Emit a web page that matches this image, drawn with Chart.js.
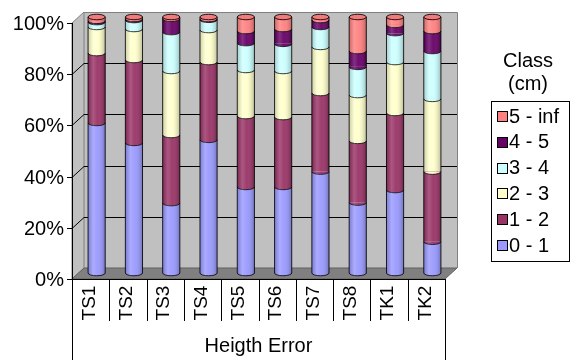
<!DOCTYPE html>
<html>
<head>
<meta charset="utf-8">
<script src="https://cdn.jsdelivr.net/npm/chart.js@4/dist/chart.umd.min.js"></script>
<style>
  html, body { margin: 0; padding: 0; background: #ffffff; }
  #wrap { width: 573px; height: 360px; position: relative; }
</style>
</head>
<body>
<div id="wrap"><canvas id="c" width="573" height="360"></canvas></div>
<script>
// Share of height errors per class, in percent of each site
const categories = ['TS1', 'TS2', 'TS3', 'TS4', 'TS5', 'TS6', 'TS7', 'TS8', 'TK1', 'TK2'];
const classLabels = ['0 - 1', '1 - 2', '2 - 3', '3 - 4', '4 - 5', '5 - inf'];
const class0to1  = [58.6, 50.8, 27.3, 52.0, 33.6, 33.6, 39.6, 27.5, 32.4, 12.2];
const class1to2  = [27.3, 32.4, 26.6, 30.4, 27.7, 27.3, 30.7, 24.1, 30.1, 27.4];
const class2to3  = [10.2, 12.1, 25.0, 12.5, 18.0, 18.0, 18.0, 17.9, 19.9, 28.4];
const class3to4  = [ 1.9,  3.5, 15.2,  4.0, 10.5, 10.6,  7.8, 11.0, 11.3, 18.7];
const class4to5  = [ 0.5,  0.4,  5.2,  0.3,  4.7,  5.8,  2.7,  6.2,  3.2,  7.8];
const class5toInf = [ 1.5,  0.8,  0.7,  0.8,  5.5,  4.7,  1.2, 13.3,  3.1,  5.5];
const yTicks = [0, 20, 40, 60, 80, 100];
const xTitle = 'Heigth Error';
const legendTitle = ['Class', '(cm)'];

const seriesValues = [class0to1, class1to2, class2to3, class3to4, class4to5, class5toInf];
const seriesColors = ['#9999ff', '#993366', '#ffffcc', '#ccffff', '#660066', '#ff8080'];

const FONT = '"Liberation Sans", Arial, sans-serif';
// depth offsets of the 3D box: back wall and front edge relative to the bar plane
const BACK = { dx: 6, dy: -5 };
const FRONT = { dx: -6, dy: 6 };

function shade(hex, f) {
  const n = parseInt(hex.slice(1), 16);
  let r = (n >> 16) & 255, g = (n >> 8) & 255, b = n & 255;
  if (f >= 0) { r += (255 - r) * f; g += (255 - g) * f; b += (255 - b) * f; }
  else { r *= 1 + f; g *= 1 + f; b *= 1 + f; }
  return 'rgb(' + Math.round(r) + ',' + Math.round(g) + ',' + Math.round(b) + ')';
}

const frame3d = {
  id: 'frame3d',
  beforeDatasetsDraw(chart) {
    const ctx = chart.ctx, y = chart.scales.y, a = chart.chartArea;
    const L = a.left, R = a.right;
    const y0 = y.getPixelForValue(0), y100 = y.getPixelForValue(100);
    ctx.save();
    // back wall
    ctx.fillStyle = '#c0c0c0';
    ctx.fillRect(L + BACK.dx, y100 + BACK.dy, R - L, y0 - y100);
    // side wall
    ctx.beginPath();
    ctx.moveTo(L + FRONT.dx, y100 + FRONT.dy);
    ctx.lineTo(L + BACK.dx, y100 + BACK.dy);
    ctx.lineTo(L + BACK.dx, y0 + BACK.dy);
    ctx.lineTo(L + FRONT.dx, y0 + FRONT.dy);
    ctx.closePath();
    ctx.fillStyle = '#c0c0c0';
    ctx.fill();
    ctx.strokeStyle = '#808080';
    ctx.lineWidth = 1;
    ctx.stroke();
    // floor
    ctx.beginPath();
    ctx.moveTo(L + FRONT.dx, y0 + FRONT.dy);
    ctx.lineTo(R + FRONT.dx, y0 + FRONT.dy);
    ctx.lineTo(R + BACK.dx, y0 + BACK.dy);
    ctx.lineTo(L + BACK.dx, y0 + BACK.dy);
    ctx.closePath();
    ctx.fillStyle = '#808080';
    ctx.fill();
    ctx.strokeStyle = '#606060';
    ctx.stroke();
    // back wall outline
    ctx.strokeStyle = '#808080';
    ctx.beginPath();
    ctx.moveTo(L + BACK.dx, y100 + BACK.dy + 0.5);
    ctx.lineTo(R + BACK.dx + 0.5, y100 + BACK.dy + 0.5);
    ctx.lineTo(R + BACK.dx + 0.5, y0 + BACK.dy);
    ctx.stroke();
    // gridlines on back and side walls
    ctx.strokeStyle = '#000000';
    yTicks.forEach(v => {
      if (v === 0 || v === 100) return;
      const p = Math.round(y.getPixelForValue(v)) + 0.5;
      ctx.beginPath();
      ctx.moveTo(L + FRONT.dx, p + FRONT.dy);
      ctx.lineTo(L + BACK.dx, p + BACK.dy);
      ctx.lineTo(R + BACK.dx, p + BACK.dy);
      ctx.stroke();
    });
    ctx.restore();
  },
  afterDatasetsDraw(chart) {
    const ctx = chart.ctx;
    const metas = chart.data.datasets.map((d, i) => chart.getDatasetMeta(i));
    const n = chart.data.labels.length;
    ctx.save();
    for (let i = 0; i < n; i++) {
      let top = null, topK = -1, base = null, w = 0, x = 0;
      for (let k = 0; k < metas.length; k++) {
        const el = metas[k].data[i];
        if (!el) continue;
        const p = el.getProps(['x', 'y', 'base', 'width'], true);
        x = p.x; w = p.width;
        const ry = w * 0.16;
        if (base === null) base = p.base;
        if (Math.abs(p.base - p.y) < 0.01) continue;
        // bottom rim of this segment bulging over the one below
        ctx.beginPath();
        ctx.ellipse(x, p.base, w / 2, ry, 0, 0, Math.PI, false);
        ctx.fillStyle = seriesColors[k];
        ctx.fill();
        ctx.strokeStyle = 'rgba(0,0,0,0.85)';
        ctx.lineWidth = 1;
        ctx.stroke();
        top = p.y; topK = k;
      }
      if (top === null) continue;
      const ry = w * 0.16;
      // cylinder shading
      ctx.save();
      ctx.beginPath();
      ctx.moveTo(x - w / 2, top);
      ctx.lineTo(x - w / 2, base);
      ctx.ellipse(x, base, w / 2, ry, 0, Math.PI, 0, true);
      ctx.lineTo(x + w / 2, top);
      ctx.closePath();
      ctx.clip();
      const g = ctx.createLinearGradient(x - w / 2, 0, x + w / 2, 0);
      g.addColorStop(0, 'rgba(0,0,0,0.18)');
      g.addColorStop(0.3, 'rgba(255,255,255,0.18)');
      g.addColorStop(0.55, 'rgba(255,255,255,0.05)');
      g.addColorStop(1, 'rgba(0,0,0,0.25)');
      ctx.fillStyle = g;
      ctx.fillRect(x - w / 2, top - ry, w, base - top + 2 * ry + 2);
      ctx.restore();
      // outline of the column
      ctx.strokeStyle = 'rgba(0,0,0,0.85)';
      ctx.lineWidth = 1;
      ctx.beginPath();
      ctx.moveTo(x - w / 2, top); ctx.lineTo(x - w / 2, base);
      ctx.moveTo(x + w / 2, top); ctx.lineTo(x + w / 2, base);
      ctx.stroke();
      // top cap
      ctx.beginPath();
      ctx.ellipse(x, top, w / 2, ry, 0, 0, Math.PI * 2);
      ctx.fillStyle = shade(seriesColors[topK], -0.05);
      ctx.fill();
      ctx.stroke();
    }
    ctx.restore();
  },
  afterDraw(chart) {
    const ctx = chart.ctx, y = chart.scales.y, xs = chart.scales.x, a = chart.chartArea;
    const L = a.left, R = a.right;
    const y0 = y.getPixelForValue(0), y100 = y.getPixelForValue(100);
    const fl = L + FRONT.dx, fr = R + FRONT.dx, fy0 = y0 + FRONT.dy;
    ctx.save();
    ctx.strokeStyle = '#000000';
    ctx.lineWidth = 1;
    // value axis with ticks and labels
    ctx.beginPath();
    ctx.moveTo(Math.round(fl) + 0.5, y100 + FRONT.dy);
    ctx.lineTo(Math.round(fl) + 0.5, 360);
    ctx.stroke();
    ctx.fillStyle = '#000000';
    ctx.font = '20px ' + FONT;
    ctx.textAlign = 'right';
    ctx.textBaseline = 'middle';
    yTicks.forEach(v => {
      const p = Math.round(y.getPixelForValue(v) + FRONT.dy) + 0.5;
      ctx.beginPath();
      ctx.moveTo(fl - 5, p); ctx.lineTo(fl, p);
      ctx.stroke();
      ctx.fillText(v + '%', fl - 8, p + 1);
    });
    // category axis box with separators
    ctx.beginPath();
    ctx.moveTo(fl, Math.round(fy0) + 0.5);
    ctx.lineTo(fr, Math.round(fy0) + 0.5);
    ctx.moveTo(Math.round(fr) + 0.5, fy0);
    ctx.lineTo(Math.round(fr) + 0.5, 360);
    const n = chart.data.labels.length;
    const cw = (R - L) / n;
    for (let i = 1; i < n; i++) {
      const sx = Math.round(fl + i * cw) + 0.5;
      ctx.moveTo(sx, fy0); ctx.lineTo(sx, fy0 + 42);
    }
    ctx.stroke();
    // rotated category labels
    ctx.font = '19px ' + FONT;
    ctx.textAlign = 'center';
    ctx.textBaseline = 'middle';
    chart.data.labels.forEach((lab, i) => {
      const cx = xs.getPixelForValue(i) + FRONT.dx - 1;
      ctx.save();
      ctx.translate(cx, fy0 + 24);
      ctx.rotate(-Math.PI / 2);
      ctx.fillText(lab, 0, 0);
      ctx.restore();
    });
    // axis title
    ctx.font = '20px ' + FONT;
    ctx.fillText(xTitle, (fl + fr) / 2, 346);
    // legend
    const lx = 491, ly = 101, lw = 78, lh = 160;
    ctx.textAlign = 'center';
    ctx.fillText(legendTitle[0], lx + lw / 2 - 2, 61);
    ctx.fillText(legendTitle[1], lx + lw / 2 - 2, 84);
    ctx.fillStyle = '#ffffff';
    ctx.fillRect(lx, ly, lw, lh);
    ctx.strokeRect(lx + 0.5, ly + 0.5, lw, lh);
    ctx.textAlign = 'left';
    const items = chart.data.datasets.map((d, k) => ({ label: d.label, color: seriesColors[k] })).reverse();
    items.forEach((it, j) => {
      const cy = ly + 15 + j * 25.8;
      ctx.fillStyle = it.color;
      ctx.fillRect(lx + 6, Math.round(cy - 5), 11, 11);
      ctx.strokeStyle = '#000000';
      ctx.strokeRect(lx + 6.5, Math.round(cy - 5) + 0.5, 10, 10);
      ctx.fillStyle = '#000000';
      ctx.fillText(it.label, lx + 18, cy + 1);
    });
    ctx.restore();
  }
};

new Chart(document.getElementById('c'), {
  type: 'bar',
  data: {
    labels: categories,
    datasets: seriesValues.map((vals, k) => ({
      label: classLabels[k],
      data: vals,
      backgroundColor: seriesColors[k],
      borderWidth: 0,
      barPercentage: 0.46,
      categoryPercentage: 1.0
    }))
  },
  options: {
    responsive: false,
    animation: false,
    layout: { padding: { left: 78, right: 122, top: 17, bottom: 87 } },
    plugins: { legend: { display: false }, tooltip: { enabled: false } },
    scales: {
      x: { stacked: true, display: false },
      y: { stacked: true, display: false, min: 0, max: 100 }
    }
  },
  plugins: [frame3d]
});
</script>
</body>
</html>
